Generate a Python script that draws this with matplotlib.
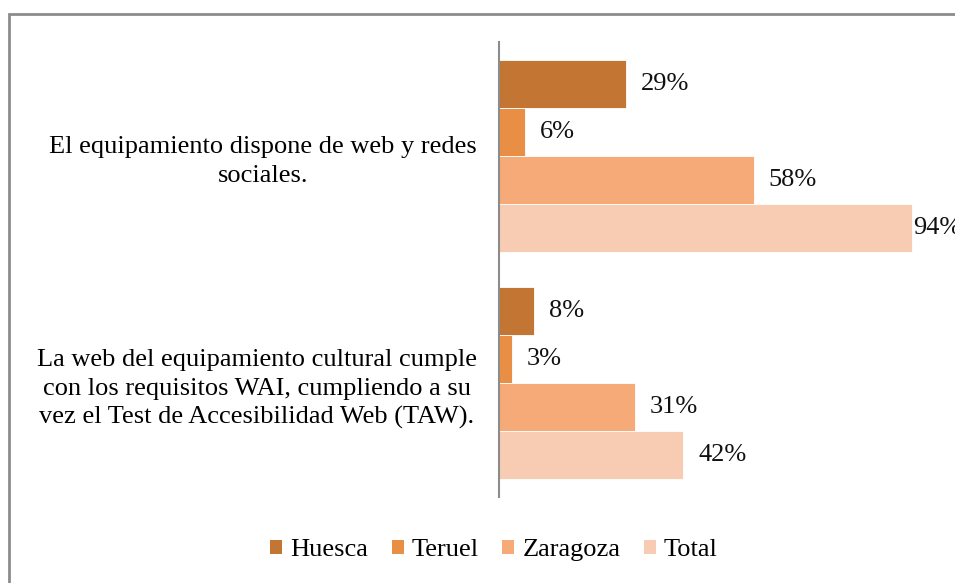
import matplotlib.pyplot as plt
import numpy as np
from matplotlib.patches import Rectangle, Patch

plt.rcParams["font.family"] = ["Liberation Serif", "DejaVu Serif"]

categories = [
    "El equipamiento dispone de web y redes\nsociales.",
    "La web del equipamiento cultural cumple\ncon los requisitos WAI, cumpliendo a su\nvez el Test de Accesibilidad Web (TAW).",
]
series = ["Huesca", "Teruel", "Zaragoza", "Total"]
values = {
    "Huesca": [29, 8],
    "Teruel": [6, 3],
    "Zaragoza": [58, 31],
    "Total": [94, 42],
}
colors = ["#C37534", "#E88F45", "#F6AA78", "#F8CBB3"]

W, H = 955, 583
fig = plt.figure(figsize=(W / 100, H / 100), dpi=100)

# outer chart border (only top/left visible in the crop)
fig.patches.append(
    Rectangle((9 / W, -0.1), 1.2, 1 - 14 / H + 0.1, transform=fig.transFigure,
              fill=False, edgecolor="#8c8c8c", linewidth=2)
)

ax = fig.add_axes([499 / W, 1 - 497 / H, 439 / W, 455 / H])

bar_h = 48 / 227.5
y = np.arange(len(categories))
for i, (name, col) in enumerate(zip(series, colors)):
    vals = np.array(values[name]) / 100
    pos = y - 2 * bar_h + (i + 0.5) * bar_h
    ax.barh(pos, vals, height=bar_h, color=col, edgecolor="white", linewidth=0.6, label=name)
    for p, v in zip(pos, vals):
        off = 1 if v > 0.9 else 15
        ax.annotate(f"{v * 100:.0f}%", (v, p), xytext=(off, 0), textcoords="offset pixels",
                    va="center", ha="left", fontsize=19, color="#111111",
                    annotation_clip=False)

ax.set_xlim(0, 1.0)
ax.set_ylim(len(categories) - 0.5, -0.5)
ax.set_yticks(y)
ax.set_yticklabels(categories, fontsize=19, multialignment="center", linespacing=1.38)
ax.tick_params(axis="y", length=0, pad=16)
ax.set_xticks([])
for s in ["top", "right", "bottom"]:
    ax.spines[s].set_visible(False)
ax.spines["left"].set_color("#8c8c8c")
ax.spines["left"].set_linewidth(1.5)

handles = [Patch(facecolor=c, edgecolor="none") for c in colors]
fig.legend(handles, series, loc="center", bbox_to_anchor=(494 / W, 1 - 550 / H),
           ncol=4, frameon=False, fontsize=19, handlelength=0.45, handleheight=0.45,
           handletextpad=0.3, columnspacing=0.9)

fig.savefig("out.png", dpi=100)
